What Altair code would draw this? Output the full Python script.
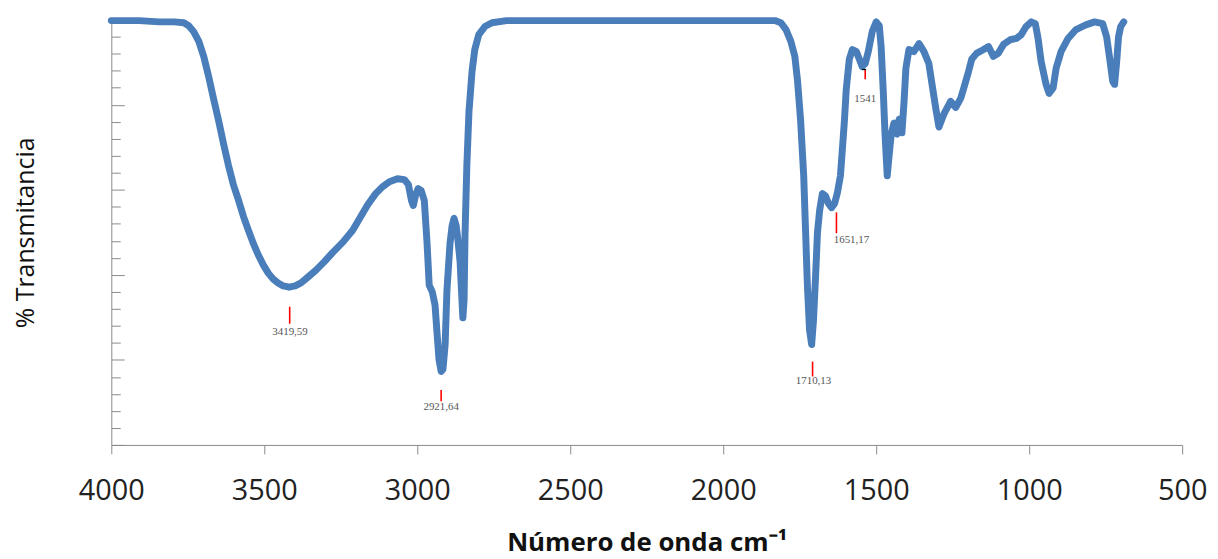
import altair as alt
import pandas as pd

wavenumber = [4000, 3909, 3844, 3795, 3763, 3747, 3731, 3714, 3698, 3682, 3666, 3649, 3633, 3617,
              3601, 3584, 3568, 3552, 3536, 3519, 3503, 3487, 3471, 3455, 3438, 3419, 3399, 3380,
              3357, 3331, 3305, 3276, 3243, 3211, 3188, 3162, 3136, 3114, 3091, 3065, 3042, 3029,
              3019, 3013, 3006, 2997, 2987, 2977, 2968, 2961, 2951, 2942, 2935, 2929, 2922, 2916,
              2909, 2903, 2893, 2886, 2880, 2873, 2867, 2860, 2854, 2851, 2847, 2844, 2838, 2831,
              2821, 2812, 2799, 2779, 2756, 2708, 2500, 2200, 2000, 1831, 1812, 1795, 1779, 1766,
              1757, 1747, 1737, 1731, 1725, 1718, 1711, 1705, 1698, 1692, 1685, 1676, 1666, 1656,
              1646, 1636, 1627, 1617, 1611, 1604, 1598, 1588, 1578, 1565, 1555, 1546, 1536, 1526,
              1513, 1500, 1490, 1484, 1477, 1471, 1464, 1458, 1451, 1442, 1432, 1425, 1416, 1409,
              1403, 1393, 1377, 1360, 1344, 1328, 1318, 1305, 1295, 1279, 1257, 1240, 1224, 1214,
              1198, 1188, 1172, 1149, 1133, 1117, 1101, 1084, 1062, 1042, 1026, 1010, 993, 980,
              971, 961, 945, 935, 922, 912, 896, 873, 847, 815, 786, 760, 747, 737, 727, 721, 714,
              708, 701, 691]
transmittance = [99.8, 99.8, 99.5, 99.5, 99.3, 98.6, 97.2, 94.9, 91.4, 86.7, 81.5, 76.2, 70.8, 65.7,
                 61.2, 57.5, 53.7, 50.5, 47.4, 44.6, 42.3, 40.4, 39.0, 38.1, 37.4, 37.1, 37.4, 38.1,
                 39.5, 41.1, 43.0, 45.3, 47.7, 50.5, 53.3, 56.5, 59.1, 60.7, 61.9, 62.6, 62.4, 61.2,
                 57.5, 56.3, 58.6, 60.3, 59.8, 57.5, 47.4, 37.6, 36.0, 32.9, 25.9, 20.1, 17.3, 17.8,
                 23.6, 36.4, 47.4, 51.6, 53.3, 51.6, 48.1, 43.0, 34.1, 29.9, 34.1, 49.3, 65.7, 78.5,
                 87.9, 93.0, 96.5, 98.4, 99.3, 99.8, 99.8, 99.8, 99.8, 99.8, 99.3, 97.7, 94.9, 91.4,
                 85.5, 76.2, 63.3, 50.5, 37.6, 27.1, 23.6, 29.4, 40.0, 50.0, 55.1, 59.1, 58.6, 56.8,
                 55.8, 56.8, 59.3, 63.3, 69.2, 76.2, 83.6, 90.7, 93.0, 92.5, 90.7, 89.0, 89.7, 92.5,
                 97.2, 99.5, 98.6, 93.7, 83.2, 72.7, 63.3, 68.0, 73.1, 75.7, 73.1, 76.6, 73.4, 80.8,
                 88.6, 93.0, 92.5, 94.4, 92.5, 89.7, 85.0, 79.0, 74.8, 77.8, 80.8, 79.4, 81.5, 83.9,
                 87.9, 90.7, 92.1, 93.0, 93.7, 91.4, 92.1, 94.2, 95.3, 95.6, 96.5, 98.4, 99.5, 99.1,
                 95.6, 90.2, 84.8, 82.7, 83.9, 88.6, 92.5, 95.6, 97.7, 98.8, 99.5, 99.1, 96.0, 90.9,
                 85.5, 84.8, 90.2, 96.0, 98.4, 99.5]

peak_line_wn = [3417, 2922, 1708, 1630, 1536]
peak_line_top = [32.5, 12.9, 19.6, 54.7, 88.3]
peak_line_bottom = [28.5, 10.3, 16.1, 49.8, 86.0]
peak_labels = ["3419,59", "2921,64", "1710,13", "1651,17", "1541"]
peak_label_wn = [3416, 2922, 1705, 1581, 1536]
peak_label_t = [26.6, 8.9, 15.0, 48.1, 81.3]
marker_wn = [1546]
marker_wn2 = [1533]
marker_t = [88.3]

x_ticks = [500, 1000, 1500, 2000, 2500, 3000, 3500, 4000]
y_ticks = list(range(0, 101, 4))

spec = pd.DataFrame({"wn": wavenumber, "t": transmittance})
peaks = pd.DataFrame({"wn": peak_line_wn, "top": peak_line_top, "bot": peak_line_bottom})
labels = pd.DataFrame({"wn": peak_label_wn, "t": peak_label_t, "label": peak_labels})
marker = pd.DataFrame({"wn": marker_wn, "wn2": marker_wn2, "t": marker_t})

W, H = 1078, 428
xscale = alt.Scale(domain=[500, 4000], reverse=True, nice=False, zero=False)
yscale = alt.Scale(domain=[0, 100], nice=False, zero=False)

xaxis = alt.Axis(values=x_ticks, format="d", tickSize=9, tickColor="#8a8a8a", domainColor="#8a8a8a",
                 labelFont="Open Sans", labelFontSize=29, labelColor="#222222", labelPadding=23,
                 labelFlush=False, grid=False, title="Número de onda cm⁻¹", titleFont="Open Sans",
                 titleFontSize=26, titleFontWeight="bold", titleColor="#111111", titlePadding=24)

yaxis_left = alt.Axis(orient="left", ticks=False, labels=False, grid=False, domainColor="#8a8a8a",
                      title="% Transmitancia", titleFont="Open Sans", titleFontSize=25,
                      titleFontWeight="normal", titleColor="#111111", titlePadding=73)

yaxis_ticks = alt.Axis(orient="right", offset=-W, values=y_ticks, labels=False, domain=False,
                       grid=False, title="", tickColor="#8a8a8a", tickWidth=1,
                       tickSize={"condition": {"test": "datum.value % 20 === 0", "value": 13}, "value": 9})

line = alt.Chart(spec).mark_line(color="#4a7ebb", strokeWidth=7, strokeJoin="round",
                                 strokeCap="round").encode(
    x=alt.X("wn:Q", scale=xscale, axis=xaxis),
    y=alt.Y("t:Q", scale=yscale, axis=yaxis_left),
    order="wn:Q",
)

rules = alt.Chart(peaks).mark_rule(color="#ff0000", strokeWidth=1.6).encode(
    x=alt.X("wn:Q", scale=xscale, axis=xaxis),
    y=alt.Y("top:Q", scale=yscale, axis=yaxis_ticks),
    y2="bot:Q",
)

mark = alt.Chart(marker).mark_rule(color="#000000", strokeWidth=1.2).encode(
    x=alt.X("wn:Q", scale=xscale, axis=xaxis),
    x2="wn2:Q",
    y=alt.Y("t:Q", scale=yscale, axis=None),
)

text = alt.Chart(labels).mark_text(font="Liberation Serif", fontSize=11, color="#555555",
                                   baseline="middle", align="center").encode(
    x=alt.X("wn:Q", scale=xscale, axis=xaxis),
    y=alt.Y("t:Q", scale=yscale, axis=None),
    text="label:N",
)

chart = alt.layer(line, rules, mark, text).resolve_axis(y="independent").properties(
    width=W, height=H,
    padding={"left": 104, "top": 10, "right": 28, "bottom": 113},
    autosize=alt.AutoSizeParams(type="none"),
    background="white",
).configure_view(strokeWidth=0)

chart.save("out.html", embed_options={"renderer": "svg", "actions": False})
